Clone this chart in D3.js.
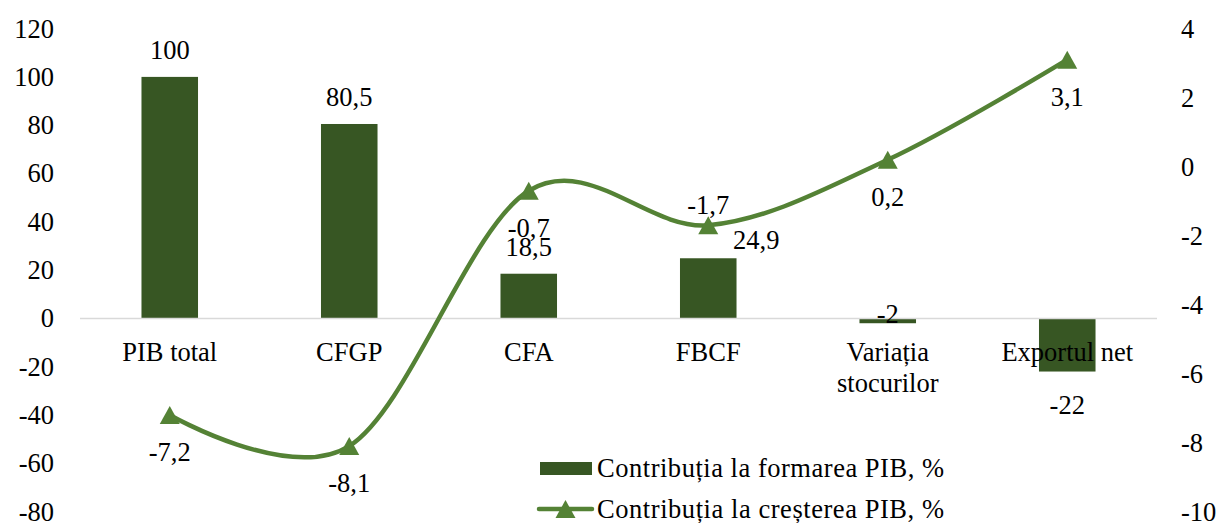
<!DOCTYPE html>
<html>
<head>
<meta charset="utf-8">
<script src="https://cdn.jsdelivr.net/npm/d3@7"></script>
<style>
  html, body { margin: 0; padding: 0; background: #ffffff; }
  svg text { font-family: "Liberation Serif", "Times New Roman", serif; fill: #000; }
</style>
</head>
<body>
<svg id="chart" width="1222" height="523"></svg>
<script>
// ---- data ----
const categories = ["PIB total", "CFGP", "CFA", "FBCF", "Variația\nstocurilor", "Exportul net"];
const formareValues = [100, 80.5, 18.5, 24.9, -2, -22];        // bars, left axis
const cresterePoints = [-7.2, -8.1, -0.7, -1.7, 0.2, 3.1];      // line, right axis
const leftTicks = [120, 100, 80, 60, 40, 20, 0, -20, -40, -60, -80];
const rightTicks = [4, 2, 0, -2, -4, -6, -8, -10];
const seriesNames = ["Contribuția la formarea PIB, %", "Contribuția la creșterea PIB, %"];

// ---- layout / style ----
const W = 1222, H = 523;
const plotLeft = 80, plotRight = 1157, plotTop = 28.6, plotBottom = 511.6;
const barColor = "#375623", lineColor = "#548235", axisLineColor = "#d9d9d9";
const fontSize = 26.5;

const locale = d3.formatLocale({decimal: ",", thousands: ".", grouping: [3], currency: ["", ""]});
const fmt = v => locale.format("~f")(v).replace(/^−/, "-");

const svg = d3.select("#chart");

const x = d3.scaleBand().domain(categories).range([plotLeft, plotRight])
  .paddingInner(0.685).paddingOuter(0.3425);
const yL = d3.scaleLinear().domain([-80, 120]).range([plotBottom, plotTop]);
const yR = d3.scaleLinear().domain([-10, 4]).range([plotBottom, plotTop]);
const cx = c => x(c) + x.bandwidth() / 2;

// left axis
const axL = svg.append("g").attr("transform", `translate(${plotLeft - 8},0)`)
  .call(d3.axisLeft(yL).tickValues(leftTicks).tickFormat(d => String(d)).tickSize(0).tickPadding(18));
axL.select(".domain").remove();
axL.selectAll("text").style("font-size", fontSize + "px").style("font-family", "Liberation Serif").attr("fill", "#000");

// right axis
const axR = svg.append("g").attr("transform", `translate(${plotRight + 6},0)`)
  .call(d3.axisRight(yR).tickValues(rightTicks).tickFormat(d => String(d)).tickSize(0).tickPadding(18));
axR.select(".domain").remove();
axR.selectAll("text").style("font-size", fontSize + "px").style("font-family", "Liberation Serif").attr("fill", "#000");

// bars
svg.append("g").selectAll("rect").data(categories).join("rect")
  .attr("x", c => x(c))
  .attr("width", x.bandwidth())
  .attr("y", (c, i) => yL(Math.max(0, formareValues[i])))
  .attr("height", (c, i) => Math.abs(yL(formareValues[i]) - yL(0)))
  .attr("fill", barColor);

// zero / category axis line
svg.append("line")
  .attr("x1", plotLeft).attr("x2", plotRight)
  .attr("y1", yL(0)).attr("y2", yL(0))
  .attr("stroke", axisLineColor).attr("stroke-width", 1.5);

// category labels
const catG = svg.append("g");
categories.forEach(c => {
  const lines = c.split("\n");
  const t = catG.append("text").attr("text-anchor", "middle")
    .attr("x", cx(c)).attr("y", yL(0) + 33)
    .style("font-size", fontSize + "px");
  lines.forEach((ln, j) => {
    t.append("tspan").attr("x", cx(c)).attr("dy", j === 0 ? "0.35em" : "1.17em").text(ln);
  });
});

// line (smoothed)
const pts = categories.map((c, i) => [cx(c), yR(cresterePoints[i])]);
svg.append("path")
  .attr("d", d3.line().curve(d3.curveCardinal.tension(0))(pts))
  .attr("fill", "none").attr("stroke", lineColor).attr("stroke-width", 4.5)
  .attr("stroke-linecap", "round");

// triangle markers
const tri = (px, py) => `M${px},${py - 9}L${px + 10},${py + 9}L${px - 10},${py + 9}Z`;
svg.append("g").selectAll("path").data(pts).join("path")
  .attr("d", p => tri(p[0], p[1])).attr("fill", lineColor);

// bar value labels (label placement nudges, px)
const barLabelShift = {4: {dx: 0, abs: yL(0) - 5}, 3: {dx: 48, dy: -19}};
svg.append("g").selectAll("text").data(categories).join("text")
  .attr("text-anchor", "middle").style("font-size", fontSize + "px").attr("dy", "0.35em")
  .attr("x", (c, i) => cx(c) + (barLabelShift[i] ? barLabelShift[i].dx : 0))
  .attr("y", (c, i) => {
    const v = formareValues[i];
    const s = barLabelShift[i];
    if (s && s.abs !== undefined) return s.abs;
    if (s) return yL(v) + s.dy;
    return v >= 0 ? yL(v) - 27 : yL(v) + 33;
  })
  .text((c, i) => fmt(formareValues[i]));

// line value labels
const lineAbove = {3: true};
svg.append("g").selectAll("text").data(categories).join("text")
  .attr("text-anchor", "middle").style("font-size", fontSize + "px").attr("dy", "0.35em")
  .attr("x", c => cx(c))
  .attr("y", (c, i) => yR(cresterePoints[i]) + (lineAbove[i] ? -21 : 37))
  .text((c, i) => fmt(cresterePoints[i]));

// legend
const lg = svg.append("g");
lg.append("rect").attr("x", 540).attr("y", 462).attr("width", 52).attr("height", 13).attr("fill", barColor);
lg.append("text").attr("x", 597).attr("y", 468).attr("dy", "0.35em").style("font-size", fontSize + "px")
  .attr("textLength", 347).attr("lengthAdjust", "spacing").text(seriesNames[0]);
lg.append("line").attr("x1", 539).attr("x2", 592).attr("y1", 509).attr("y2", 509)
  .attr("stroke", lineColor).attr("stroke-width", 4.5).attr("stroke-linecap", "round");
lg.append("path").attr("d", tri(565.5, 509)).attr("fill", lineColor);
lg.append("text").attr("x", 597).attr("y", 509).attr("dy", "0.35em").style("font-size", fontSize + "px")
  .attr("textLength", 347).attr("lengthAdjust", "spacing").text(seriesNames[1]);
</script>
</body>
</html>
